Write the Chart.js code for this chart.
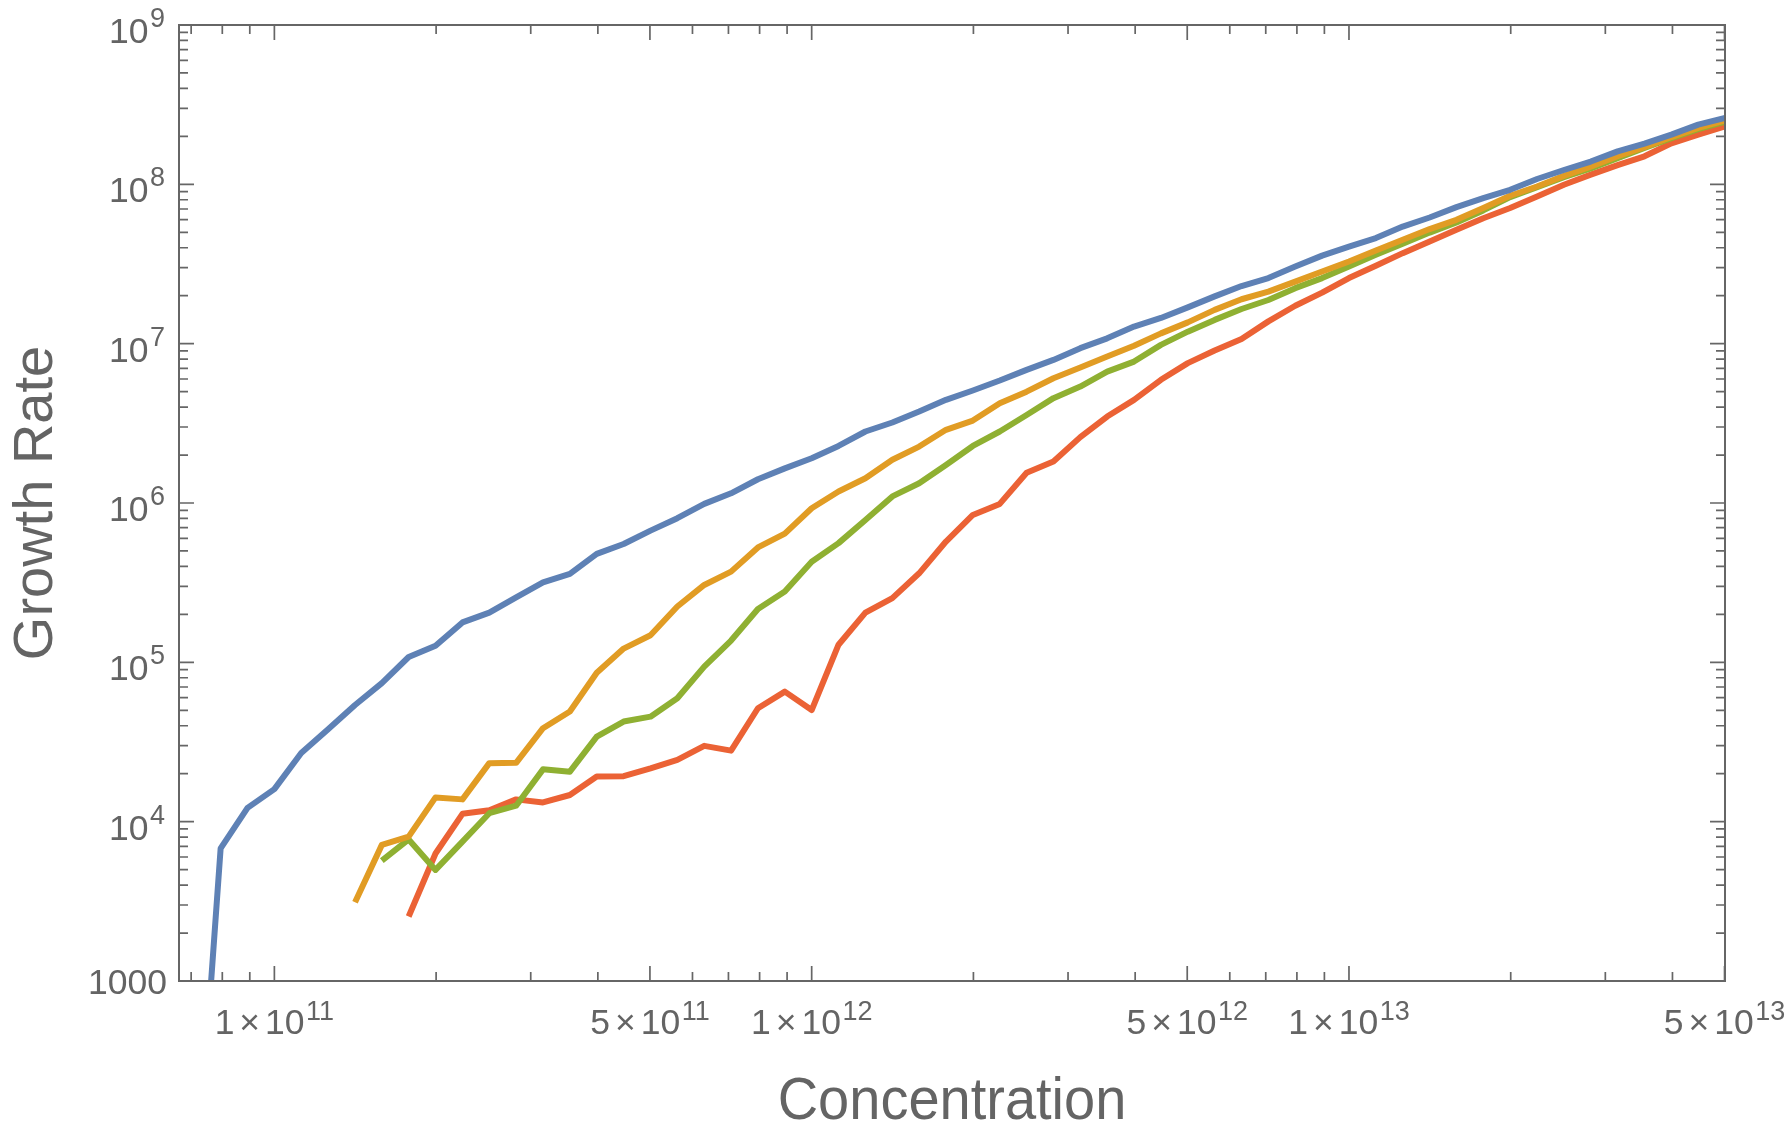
<!DOCTYPE html>
<html>
<head>
<meta charset="utf-8">
<script src="https://cdn.jsdelivr.net/npm/chart.js@4.4.1/dist/chart.umd.min.js"></script>
<style>
  html, body { margin: 0; padding: 0; background: #ffffff; }
  #wrap { width: 1788px; height: 1130px; }
  canvas { display: block; }
</style>
</head>
<body>
<div id="wrap"><canvas id="c" width="1788" height="1130"></canvas></div>
<script>
// ---- Data ----
const concentration = [
  7.079e10, 7.943e10, 8.913e10,
  1.000e11, 1.122e11, 1.259e11, 1.413e11, 1.585e11, 1.778e11, 1.995e11, 2.239e11, 2.512e11, 2.818e11,
  3.162e11, 3.548e11, 3.981e11, 4.467e11, 5.012e11, 5.623e11, 6.310e11, 7.079e11, 7.943e11, 8.913e11,
  1.000e12, 1.122e12, 1.259e12, 1.413e12, 1.585e12, 1.778e12, 1.995e12, 2.239e12, 2.512e12, 2.818e12,
  3.162e12, 3.548e12, 3.981e12, 4.467e12, 5.012e12, 5.623e12, 6.310e12, 7.079e12, 7.943e12, 8.913e12,
  1.000e13, 1.122e13, 1.259e13, 1.413e13, 1.585e13, 1.778e13, 1.995e13, 2.239e13, 2.512e13, 2.818e13,
  3.162e13, 3.548e13, 3.981e13, 4.467e13, 5.012e13
];

const seriesBlue = [
  30, 6800, 12200,
  16000, 27000, 38000, 54000, 74000, 108000, 127000, 178000, 205000, 256000,
  318000, 359000, 479000, 553000, 671000, 803000, 987000, 1150000, 1410000, 1650000,
  1910000, 2280000, 2810000, 3200000, 3750000, 4440000, 5080000, 5870000, 6850000, 7910000,
  9370000, 10800000, 12800000, 14500000, 16900000, 19800000, 23000000, 25800000, 30500000, 35700000,
  40700000, 46000000, 54300000, 61900000, 71900000, 81900000, 92400000, 108000000, 123000000, 139000000,
  161000000, 180000000, 205000000, 237000000, 261000000
];

const seriesOrange = [
  null, null, null,
  null, null, null, 3120, 7150, 8050, 14200, 13800, 23300, 23400,
  38600, 49100, 86100, 122000, 148000, 224000, 306000, 371000, 526000, 643000,
  927000, 1180000, 1430000, 1870000, 2260000, 2880000, 3290000, 4230000, 5000000, 6070000,
  7080000, 8300000, 9700000, 11600000, 13600000, 16300000, 19000000, 21200000, 24500000, 28400000,
  32800000, 38400000, 44900000, 52400000, 59900000, 71000000, 84800000, 96900000, 113000000, 129000000,
  150000000, 171000000, 198000000, 226000000, 252000000
];

const seriesGreen = [
  null, null, null,
  null, null, null, null, 5690, 7740, 4980, 7500, 11300, 12600,
  21300, 20600, 34200, 42500, 45600, 59500, 94000, 137000, 216000, 278000,
  428000, 560000, 783000, 1100000, 1330000, 1730000, 2280000, 2810000, 3570000, 4550000,
  5380000, 6680000, 7720000, 9830000, 11900000, 14100000, 16500000, 18800000, 22300000, 25800000,
  30500000, 36100000, 42400000, 49800000, 57600000, 68600000, 83100000, 96000000, 111000000, 126000000,
  146000000, 169000000, 195000000, 222000000, 248000000
];

const seriesRed = [
  null, null, null,
  null, null, null, null, null, 2540, 6310, 11200, 11800, 13800,
  13200, 14700, 19200, 19300, 21600, 24400, 29900, 27900, 51500, 65500,
  50200, 129000, 205000, 253000, 362000, 573000, 841000, 987000, 1550000, 1820000,
  2590000, 3490000, 4440000, 5930000, 7550000, 9060000, 10700000, 13800000, 17300000, 20900000,
  25800000, 30800000, 37000000, 43800000, 51800000, 61300000, 71000000, 83800000, 99300000, 115000000,
  132000000, 150000000, 181000000, 205000000, 231000000
];

const seriesColors = ['#5E81B5', '#E19C24', '#8FB032', '#EB6235'];

const xTickValues = [1e11, 5e11, 1e12, 5e12, 1e13, 5e13];
const xTickLabels = ['1×10^11', '5×10^11', '1×10^12', '5×10^12', '1×10^13', '5×10^13'];
const yTickValues = [1e3, 1e4, 1e5, 1e6, 1e7, 1e8, 1e9];
const yTickLabels = ['1000', '10^4', '10^5', '10^6', '10^7', '10^8', '10^9'];

const xAxisTitle = 'Concentration';
const yAxisTitle = 'Growth Rate';

// ---- Build chart ----
function toPoints(ys) {
  const pts = [];
  for (let i = 0; i < concentration.length; i++) {
    if (ys[i] !== null) pts.push({ x: concentration[i], y: ys[i] });
  }
  return pts;
}

const FONT = '"Liberation Sans", Arial, Helvetica, sans-serif';
const TEXT_COLOR = '#646464';
const FRAME_COLOR = '#666666';

function drawPowLabel(ctx, label, anchorX, baseY, align, mainSize, supSize, supRise, gapX) {
  const parts = label.split('^');
  const main = parts[0];
  const sup = parts.length > 1 ? parts[1] : '';
  ctx.font = mainSize + 'px ' + FONT;
  let mainPieces;
  if (main.indexOf('×') >= 0) {
    const s = main.split('×');
    mainPieces = [s[0], '×', s[1]];
  } else {
    mainPieces = [main];
  }
  const widths = mainPieces.map(p => ctx.measureText(p).width);
  const mainW = widths.reduce((a, b) => a + b, 0) + gapX * (mainPieces.length - 1);
  ctx.font = supSize + 'px ' + FONT;
  const supGap = 1.5;
  const supW = sup ? ctx.measureText(sup).width + supGap : 0;
  const total = mainW + supW;
  const x0 = (align === 'right') ? anchorX - total : anchorX - total / 2;
  ctx.textAlign = 'left';
  ctx.textBaseline = 'alphabetic';
  ctx.font = mainSize + 'px ' + FONT;
  let x = x0;
  for (let i = 0; i < mainPieces.length; i++) {
    ctx.fillText(mainPieces[i], x, baseY);
    x += widths[i] + gapX;
  }
  x -= gapX;
  if (sup) {
    ctx.font = supSize + 'px ' + FONT;
    ctx.fillText(sup, x + supGap, baseY - supRise);
  }
}

const frameAndTicks = {
  id: 'frameAndTicks',
  afterDatasetsDraw(chart) {
    const ctx = chart.ctx;
    const a = chart.chartArea;
    const xs = chart.scales.x;
    const ys = chart.scales.y;
    ctx.save();
    // ticks (inward, on all four sides)
    ctx.strokeStyle = FRAME_COLOR;
    ctx.lineWidth = 1.7;
    const MAJOR = 15, MINOR = 9;
    ctx.beginPath();
    for (let d = 3; d <= 9; d++) {
      for (let m = 1; m <= 9; m++) {
        const v = m * Math.pow(10, d);
        if (v < ys.min * 0.999 || v > ys.max * 1.001) continue;
        const py = ys.getPixelForValue(v);
        const len = (m === 1) ? MAJOR : MINOR;
        ctx.moveTo(a.left, py); ctx.lineTo(a.left + len, py);
        ctx.moveTo(a.right, py); ctx.lineTo(a.right - len, py);
      }
    }
    for (let d = 10; d <= 13; d++) {
      for (let m = 1; m <= 9; m++) {
        const v = m * Math.pow(10, d);
        if (v < xs.min || v > xs.max * 1.001) continue;
        const px = xs.getPixelForValue(v);
        const len = (m === 1 || m === 5) ? MAJOR : MINOR;
        ctx.moveTo(px, a.bottom); ctx.lineTo(px, a.bottom - len);
        ctx.moveTo(px, a.top); ctx.lineTo(px, a.top + len);
      }
    }
    ctx.stroke();
    // frame
    ctx.lineWidth = 2;
    ctx.strokeRect(a.left, a.top, a.right - a.left, a.bottom - a.top);

    // tick labels
    ctx.fillStyle = TEXT_COLOR;
    for (let i = 0; i < yTickValues.length; i++) {
      const py = ys.getPixelForValue(yTickValues[i]);
      const lab = yTickLabels[i];
      if (lab.indexOf('^') >= 0) {
        drawPowLabel(ctx, lab, a.left - 14, py + 18, 'right', 35.5, 27, 16, 0);
      } else {
        drawPowLabel(ctx, lab, a.left - 12, py + 12.5, 'right', 35.5, 27, 0, 0);
      }
    }
    for (let i = 0; i < xTickValues.length; i++) {
      const px = xs.getPixelForValue(xTickValues[i]);
      drawPowLabel(ctx, xTickLabels[i], px, a.bottom + 53, 'center', 35.5, 27, 14.5, 5);
    }

    // axis titles
    ctx.font = '56px ' + FONT;
    ctx.textAlign = 'center';
    ctx.textBaseline = 'alphabetic';
    ctx.save();
    ctx.translate((a.left + a.right) / 2, 1119);
    ctx.scale(1, 1.07);
    ctx.fillText(xAxisTitle, 0, 0);
    ctx.restore();
    ctx.save();
    ctx.translate(52, (a.top + a.bottom) / 2);
    ctx.rotate(-Math.PI / 2);
    ctx.fillText(yAxisTitle, 0, 0);
    ctx.restore();
    ctx.restore();
  }
};

const datasets = [seriesBlue, seriesOrange, seriesGreen, seriesRed].map((s, i) => ({
  label: 'Series ' + (i + 1),
  data: toPoints(s),
  borderColor: seriesColors[i],
  backgroundColor: seriesColors[i],
  borderWidth: 6,
  pointRadius: 0,
  pointHoverRadius: 0,
  tension: 0,
  fill: false,
  borderJoinStyle: 'round',
  borderCapStyle: 'butt',
  clip: 0
}));

new Chart(document.getElementById('c'), {
  type: 'line',
  data: { datasets },
  options: {
    responsive: false,
    animation: false,
    devicePixelRatio: 1,
    events: [],
    layout: { padding: { left: 179, right: 63, top: 25, bottom: 149 } },
    plugins: { legend: { display: false }, tooltip: { enabled: false }, title: { display: false } },
    scales: {
      x: { type: 'logarithmic', min: 6.645e10, max: 5.01e13, display: false },
      y: { type: 'logarithmic', min: 1000, max: 1e9, display: false }
    }
  },
  plugins: [frameAndTicks]
});
</script>
</body>
</html>
